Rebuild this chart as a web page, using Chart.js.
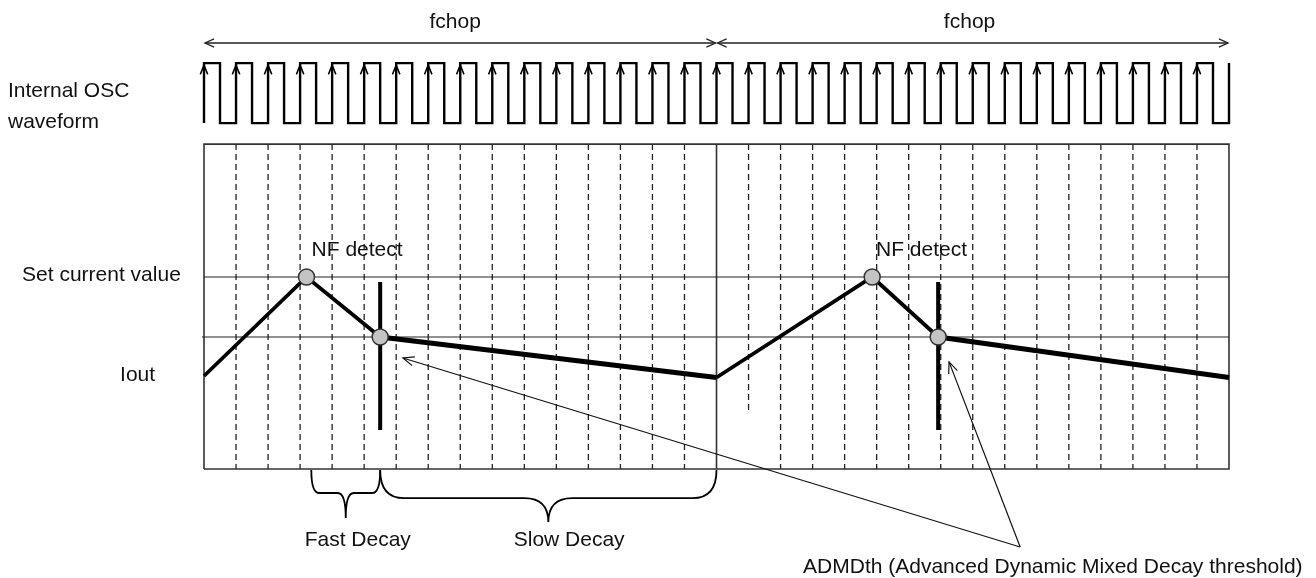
<!DOCTYPE html>
<html>
<head>
<meta charset="utf-8">
<script src="https://cdn.jsdelivr.net/npm/chart.js@4.4.0/dist/chart.umd.min.js"></script>
<style>
  html, body { margin: 0; padding: 0; background: #fff; }
  canvas { display: block; }
</style>
</head>
<body>
<canvas id="chopChart" width="1316" height="578"></canvas>
<script>
// ==================== DATA ====================
// x unit = one internal OSC period, y unit = current level (set current = 100)
const oscRise = [0, 1, 2, 3, 4, 5, 6, 7, 8, 9, 10, 11, 12, 13, 14, 15, 16,
                 17, 18, 19, 20, 21, 22, 23, 24, 25, 26, 27, 28, 29, 30, 31, 32];
const oscFall = [0.5, 1.5, 2.5, 3.5, 4.5, 5.5, 6.5, 7.5, 8.5, 9.5, 10.5, 11.5, 12.5, 13.5, 14.5, 15.5,
                 16.5, 17.5, 18.5, 19.5, 20.5, 21.5, 22.5, 23.5, 24.5, 25.5, 26.5, 27.5, 28.5, 29.5, 30.5, 31.5];
const oscLow = 151.3;
const oscHigh = 171.3;

const chopBounds = [0, 16, 32];
const chopLevel = 178;

const boxTop = 144.3;
const boxBottom = 36;
const gridX = [1, 2, 3, 4, 5, 6, 7, 8, 9, 10, 11, 12, 13, 14, 15,
               17, 18, 19, 20, 21, 22, 23, 24, 25, 26, 27, 28, 29, 30, 31];
const gridEnd = [36, 36, 36, 36, 36, 36, 36, 36, 36, 36, 36, 36, 36, 36, 36,
                 54.7, 36, 36, 36, 36, 36, 36, 36, 36, 36, 36, 36, 36, 36, 36];

const setCurrent = 100;
const admdThreshold = 80;

const ioutX = [0, 3.2, 5.5, 16, 20.86, 22.92, 32];
const ioutY = [67, 100, 80, 66.5, 100, 80, 66.5];
const markerIdx = [1, 2, 4, 5];
const slowStart = [2, 5];   // segments drawn as slow decay (thicker)

const thresholdX = [5.5, 22.92];
const thresholdSpan = [98.3, 49];

const fastDecay = [3.35, 5.5];
const slowDecay = [5.5, 16];

const admdFrom = [25.48, 10];
const admdTips = [[6.21, 73], [23.26, 71.7]];

const FONT = '21px "Liberation Sans", Arial, Helvetica, sans-serif';

// ==================== HELPERS ====================
function segments(list) {
    const pts = [];
    list.forEach(s => {
        pts.push({ x: s[0], y: s[1] }, { x: s[2], y: s[3] }, { x: s[2], y: null });
    });
    return pts;
}

function oscPoints() {
    const pts = [];
    oscRise.forEach((r, i) => {
        pts.push({ x: r, y: oscLow }, { x: r, y: oscHigh });
        if (oscFall[i] !== undefined) {
            pts.push({ x: oscFall[i], y: oscHigh }, { x: oscFall[i], y: oscLow });
        }
    });
    return pts;
}

function arrowHead(ctx, fx, fy, tx, ty, len, half) {
    const a = Math.atan2(ty - fy, tx - fx);
    const ang = Math.atan2(half, len);
    ctx.beginPath();
    ctx.moveTo(tx - len * Math.cos(a - ang), ty - len * Math.sin(a - ang));
    ctx.lineTo(tx, ty);
    ctx.lineTo(tx - len * Math.cos(a + ang), ty - len * Math.sin(a + ang));
    ctx.stroke();
}

function brace(ctx, x1, x2, yTop, yMid, yTip, r) {
    const xc = (x1 + x2) / 2;
    ctx.beginPath();
    ctx.moveTo(x1, yTop);
    ctx.quadraticCurveTo(x1, yMid, x1 + r, yMid);
    ctx.lineTo(xc - r, yMid);
    ctx.quadraticCurveTo(xc, yMid, xc, yTip);
    ctx.moveTo(x2, yTop);
    ctx.quadraticCurveTo(x2, yMid, x2 - r, yMid);
    ctx.lineTo(xc + r, yMid);
    ctx.quadraticCurveTo(xc, yMid, xc, yTip);
    ctx.stroke();
}

// ==================== ANNOTATIONS ====================
const diagramPlugin = {
    id: 'diagram',
    afterDatasetsDraw(chart) {
        const ctx = chart.ctx;
        const X = v => chart.scales.x.getPixelForValue(v);
        const Y = v => chart.scales.y.getPixelForValue(v);
        ctx.save();
        ctx.strokeStyle = '#222';
        ctx.lineCap = 'butt';

        // fchop arrows
        ctx.lineWidth = 1.3;
        for (let i = 0; i < chopBounds.length - 1; i++) {
            const a = X(chopBounds[i]) + 1, b = X(chopBounds[i + 1]) - 1, y = Y(chopLevel);
            ctx.beginPath();
            ctx.moveTo(a, y);
            ctx.lineTo(b, y);
            ctx.stroke();
            arrowHead(ctx, b, y, a, y, 10, 4.5);
            arrowHead(ctx, a, y, b, y, 10, 4.5);
        }

        // rising-edge arrows of the OSC clock
        ctx.strokeStyle = '#000';
        ctx.lineWidth = 1.5;
        oscRise.forEach((r, i) => {
            if (oscFall[i] === undefined) return;
            const x = X(r), y = Y(oscHigh) + 2;
            arrowHead(ctx, x, y + 20, x, y, 10, 4);
        });

        // ADMDth pointers
        ctx.strokeStyle = '#111';
        ctx.lineWidth = 1.2;
        admdTips.forEach(t => {
            const fx = X(admdFrom[0]), fy = Y(admdFrom[1]);
            const tx = X(t[0]), ty = Y(t[1]);
            ctx.beginPath();
            ctx.moveTo(fx, fy);
            ctx.lineTo(tx, ty);
            ctx.stroke();
            arrowHead(ctx, fx, fy, tx, ty, 12, 5);
        });

        // decay braces
        ctx.strokeStyle = '#000';
        ctx.lineWidth = 1.8;
        brace(ctx, X(fastDecay[0]), X(fastDecay[1]), Y(35.7), Y(28), Y(19.7), 8);
        brace(ctx, X(slowDecay[0]), X(slowDecay[1]), Y(35.7), Y(26.3), Y(18.3), 24);

        // texts
        ctx.fillStyle = '#111';
        ctx.font = FONT;
        ctx.textBaseline = 'middle';
        ctx.textAlign = 'center';
        ctx.fillText('fchop', X(7.84), Y(185));
        ctx.fillText('fchop', X(23.9), Y(185));
        ctx.fillText('NF detect', X(4.78), Y(109));
        ctx.fillText('NF detect', X(22.4), Y(109));
        ctx.fillText('Fast Decay', X(4.8), Y(12.3));
        ctx.fillText('Slow Decay', X(11.4), Y(12.3));
        ctx.fillText('ADMDth (Advanced Dynamic Mixed Decay threshold)', X(26.5), Y(3.3));
        ctx.textAlign = 'left';
        ctx.fillText('Internal OSC', X(-6.12), Y(162));
        ctx.fillText('waveform', X(-6.12), Y(151.7));
        ctx.fillText('Set current value', X(-5.68), Y(100.7));
        ctx.fillText('Iout', X(-2.62), Y(67.3));
        ctx.restore();
    }
};

// ==================== CHART ====================
const ioutPts = ioutX.map((x, i) => ({ x: x, y: ioutY[i] }));
const markerPts = markerIdx.map(i => ioutPts[i]);

const boxPts = [
    { x: 0, y: boxBottom }, { x: 0, y: boxTop }, { x: 32, y: boxTop },
    { x: 32, y: boxBottom }, { x: 0, y: boxBottom }, { x: 0, y: null },
    { x: 16, y: boxTop }, { x: 16, y: boxBottom }
];

const lineBase = { showLine: true, pointRadius: 0, pointHoverRadius: 0, tension: 0, fill: false };

new Chart(document.getElementById('chopChart'), {
    type: 'scatter',
    data: {
        datasets: [
            {
                label: 'markers', data: markerPts, showLine: false, order: 0,
                pointRadius: 8, pointHoverRadius: 8,
                pointBackgroundColor: '#c4c4c4', pointBorderColor: '#333', pointBorderWidth: 1.5
            },
            Object.assign({}, lineBase, {
                label: 'Iout', data: ioutPts, order: 1,
                borderColor: '#000', borderWidth: 4, borderJoinStyle: 'miter',
                segment: { borderWidth: c => slowStart.includes(c.p0DataIndex) ? 5 : 3.8 }
            }),
            Object.assign({}, lineBase, {
                label: 'ADMDth', order: 2, borderColor: '#000', borderWidth: 4,
                data: segments(thresholdX.map(x => [x, thresholdSpan[0], x, thresholdSpan[1]]))
            }),
            Object.assign({}, lineBase, {
                label: 'OSC', data: oscPoints(), order: 3,
                borderColor: '#000', borderWidth: 2.4, borderJoinStyle: 'miter'
            }),
            Object.assign({}, lineBase, {
                label: 'levels', order: 4, borderColor: '#222', borderWidth: 1.2,
                data: segments([[0, setCurrent, 32, setCurrent], [-0.06, admdThreshold, 32, admdThreshold]])
            }),
            Object.assign({}, lineBase, {
                label: 'box', data: boxPts, order: 5, borderColor: '#333', borderWidth: 1.6
            }),
            Object.assign({}, lineBase, {
                label: 'grid', order: 6, borderColor: '#222', borderWidth: 1.3, borderDash: [6, 4],
                data: segments(gridX.map((x, i) => [x, boxTop, x, gridEnd[i]]))
            })
        ]
    },
    options: {
        responsive: false,
        animation: false,
        layout: { padding: 0, autoPadding: false },
        plugins: { legend: { display: false }, tooltip: { enabled: false } },
        scales: {
            x: { type: 'linear', display: false, min: -6.3688, max: 34.716 },
            y: { type: 'linear', display: false, min: -0.3333, max: 192.3333 }
        }
    },
    plugins: [diagramPlugin]
});
</script>
</body>
</html>
